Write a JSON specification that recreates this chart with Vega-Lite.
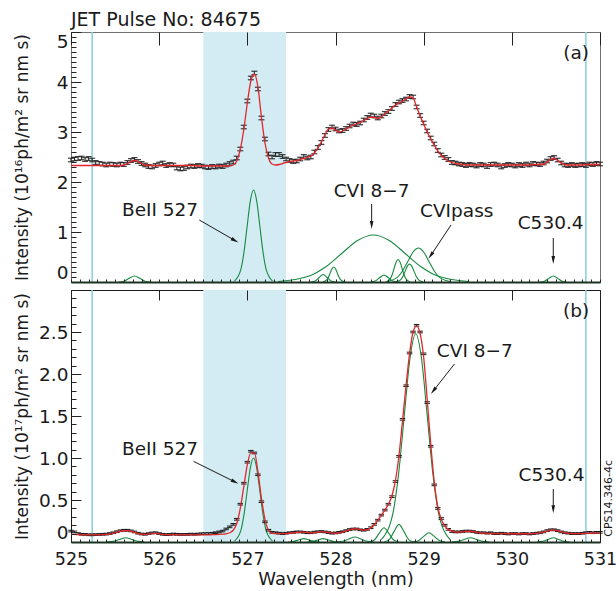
{
"$schema": "https://vega.github.io/schema/vega-lite/v6.json",
"padding": {"left": 12, "top": 10, "right": 0, "bottom": 0},
"spacing": 8,
"bounds": "flush",
"config": {
  "font": "DejaVu Sans",
  "view": {"stroke": "#222222", "strokeWidth": 1},
  "axis": {"labelFont": "DejaVu Sans", "titleFont": "DejaVu Sans", "labelColor": "#1a1a1a", "titleColor": "#1a1a1a", "titleFontWeight": "normal", "labelFontSize": 18.5, "titleFontSize": 17, "labelOverlap": false},
  "text": {"font": "DejaVu Sans", "fontSize": 18.5, "color": "#1a1a1a"}
},
"datasets": {
"main": [
{"x":525.00,"a":2.44,"af":2.33,"b":0.13,"bf":0.09},
{"x":525.04,"a":2.46,"af":2.33,"b":0.12,"bf":0.09},
{"x":525.08,"a":2.47,"af":2.33,"b":0.10,"bf":0.087},
{"x":525.12,"a":2.48,"af":2.33,"b":0.092,"bf":0.085},
{"x":525.16,"a":2.45,"af":2.33,"b":0.09,"bf":0.085},
{"x":525.20,"a":2.47,"af":2.33,"b":0.086,"bf":0.085},
{"x":525.24,"a":2.44,"af":2.33,"b":0.085,"bf":0.085},
{"x":525.28,"a":2.39,"af":2.33,"b":0.087,"bf":0.085},
{"x":525.32,"a":2.37,"af":2.33,"b":0.09,"bf":0.086},
{"x":525.36,"a":2.36,"af":2.33,"b":0.092,"bf":0.088},
{"x":525.40,"a":2.34,"af":2.33,"b":0.094,"bf":0.09},
{"x":525.44,"a":2.36,"af":2.33,"b":0.10,"bf":0.095},
{"x":525.48,"a":2.35,"af":2.33,"b":0.11,"bf":0.105},
{"x":525.52,"a":2.34,"af":2.33,"b":0.122,"bf":0.117},
{"x":525.56,"a":2.36,"af":2.33,"b":0.134,"bf":0.128},
{"x":525.60,"a":2.35,"af":2.34,"b":0.14,"bf":0.134},
{"x":525.64,"a":2.39,"af":2.37,"b":0.14,"bf":0.135},
{"x":525.68,"a":2.43,"af":2.41,"b":0.132,"bf":0.128},
{"x":525.72,"a":2.45,"af":2.43,"b":0.12,"bf":0.115},
{"x":525.76,"a":2.41,"af":2.41,"b":0.105,"bf":0.10},
{"x":525.80,"a":2.37,"af":2.37,"b":0.095,"bf":0.092},
{"x":525.84,"a":2.34,"af":2.34,"b":0.092,"bf":0.09},
{"x":525.88,"a":2.31,"af":2.33,"b":0.10,"bf":0.094},
{"x":525.92,"a":2.30,"af":2.33,"b":0.108,"bf":0.10},
{"x":525.96,"a":2.33,"af":2.33,"b":0.11,"bf":0.102},
{"x":526.00,"a":2.36,"af":2.33,"b":0.10,"bf":0.097},
{"x":526.04,"a":2.38,"af":2.33,"b":0.092,"bf":0.09},
{"x":526.08,"a":2.33,"af":2.33,"b":0.088,"bf":0.087},
{"x":526.12,"a":2.35,"af":2.33,"b":0.09,"bf":0.086},
{"x":526.16,"a":2.34,"af":2.33,"b":0.095,"bf":0.087},
{"x":526.20,"a":2.28,"af":2.33,"b":0.092,"bf":0.087},
{"x":526.24,"a":2.26,"af":2.33,"b":0.09,"bf":0.086},
{"x":526.28,"a":2.27,"af":2.33,"b":0.09,"bf":0.086},
{"x":526.32,"a":2.30,"af":2.33,"b":0.091,"bf":0.086},
{"x":526.36,"a":2.32,"af":2.33,"b":0.094,"bf":0.086},
{"x":526.40,"a":2.31,"af":2.33,"b":0.092,"bf":0.086},
{"x":526.44,"a":2.33,"af":2.32,"b":0.095,"bf":0.086},
{"x":526.48,"a":2.32,"af":2.32,"b":0.098,"bf":0.086},
{"x":526.52,"a":2.30,"af":2.32,"b":0.10,"bf":0.086},
{"x":526.56,"a":2.29,"af":2.32,"b":0.10,"bf":0.086},
{"x":526.60,"a":2.31,"af":2.32,"b":0.104,"bf":0.087},
{"x":526.64,"a":2.30,"af":2.32,"b":0.11,"bf":0.088},
{"x":526.68,"a":2.32,"af":2.32,"b":0.12,"bf":0.09},
{"x":526.72,"a":2.31,"af":2.32,"b":0.13,"bf":0.093},
{"x":526.76,"a":2.34,"af":2.32,"b":0.155,"bf":0.098},
{"x":526.80,"a":2.37,"af":2.32,"b":0.18,"bf":0.11},
{"x":526.84,"a":2.40,"af":2.34,"b":0.21,"bf":0.14},
{"x":526.88,"a":2.48,"af":2.42,"b":0.27,"bf":0.22},
{"x":526.92,"a":2.66,"af":2.65,"b":0.45,"bf":0.40},
{"x":526.96,"a":3.10,"af":3.05,"b":0.70,"bf":0.66},
{"x":527.00,"a":3.62,"af":3.58,"b":0.95,"bf":0.92},
{"x":527.04,"a":4.08,"af":4.02,"b":1.08,"bf":1.06},
{"x":527.08,"a":4.18,"af":4.16,"b":1.06,"bf":1.06},
{"x":527.12,"a":3.86,"af":3.90,"b":0.80,"bf":0.84},
{"x":527.16,"a":3.28,"af":3.30,"b":0.48,"bf":0.52},
{"x":527.20,"a":2.86,"af":2.78,"b":0.24,"bf":0.27},
{"x":527.24,"a":2.56,"af":2.48,"b":0.14,"bf":0.14},
{"x":527.28,"a":2.50,"af":2.36,"b":0.115,"bf":0.105},
{"x":527.32,"a":2.55,"af":2.34,"b":0.11,"bf":0.10},
{"x":527.36,"a":2.55,"af":2.35,"b":0.105,"bf":0.10},
{"x":527.40,"a":2.51,"af":2.37,"b":0.10,"bf":0.10},
{"x":527.44,"a":2.46,"af":2.39,"b":0.105,"bf":0.10},
{"x":527.48,"a":2.43,"af":2.41,"b":0.11,"bf":0.104},
{"x":527.52,"a":2.41,"af":2.42,"b":0.115,"bf":0.11},
{"x":527.56,"a":2.42,"af":2.43,"b":0.12,"bf":0.115},
{"x":527.60,"a":2.46,"af":2.45,"b":0.12,"bf":0.118},
{"x":527.64,"a":2.51,"af":2.47,"b":0.116,"bf":0.118},
{"x":527.68,"a":2.48,"af":2.49,"b":0.11,"bf":0.113},
{"x":527.72,"a":2.50,"af":2.52,"b":0.11,"bf":0.108},
{"x":527.76,"a":2.60,"af":2.58,"b":0.118,"bf":0.11},
{"x":527.80,"a":2.69,"af":2.68,"b":0.122,"bf":0.115},
{"x":527.84,"a":2.79,"af":2.80,"b":0.125,"bf":0.12},
{"x":527.88,"a":2.93,"af":2.94,"b":0.12,"bf":0.12},
{"x":527.92,"a":3.05,"af":3.06,"b":0.112,"bf":0.113},
{"x":527.96,"a":3.10,"af":3.08,"b":0.105,"bf":0.106},
{"x":528.00,"a":3.06,"af":3.04,"b":0.108,"bf":0.105},
{"x":528.04,"a":3.02,"af":3.00,"b":0.115,"bf":0.11},
{"x":528.08,"a":3.03,"af":3.02,"b":0.122,"bf":0.118},
{"x":528.12,"a":3.07,"af":3.06,"b":0.135,"bf":0.13},
{"x":528.16,"a":3.12,"af":3.10,"b":0.148,"bf":0.145},
{"x":528.20,"a":3.16,"af":3.14,"b":0.155,"bf":0.155},
{"x":528.24,"a":3.15,"af":3.16,"b":0.155,"bf":0.156},
{"x":528.28,"a":3.18,"af":3.19,"b":0.145,"bf":0.148},
{"x":528.32,"a":3.24,"af":3.23,"b":0.14,"bf":0.142},
{"x":528.36,"a":3.29,"af":3.27,"b":0.15,"bf":0.148},
{"x":528.40,"a":3.34,"af":3.30,"b":0.17,"bf":0.168},
{"x":528.44,"a":3.32,"af":3.29,"b":0.21,"bf":0.206},
{"x":528.48,"a":3.28,"af":3.27,"b":0.26,"bf":0.258},
{"x":528.52,"a":3.32,"af":3.30,"b":0.32,"bf":0.318},
{"x":528.56,"a":3.37,"af":3.36,"b":0.38,"bf":0.38},
{"x":528.60,"a":3.41,"af":3.42,"b":0.45,"bf":0.45},
{"x":528.64,"a":3.47,"af":3.48,"b":0.54,"bf":0.55},
{"x":528.68,"a":3.55,"af":3.54,"b":0.72,"bf":0.73},
{"x":528.72,"a":3.60,"af":3.58,"b":1.02,"bf":1.03},
{"x":528.76,"a":3.63,"af":3.62,"b":1.46,"bf":1.44},
{"x":528.80,"a":3.66,"af":3.66,"b":1.86,"bf":1.86},
{"x":528.84,"a":3.71,"af":3.70,"b":2.25,"bf":2.24},
{"x":528.88,"a":3.70,"af":3.68,"b":2.50,"bf":2.50},
{"x":528.92,"a":3.50,"af":3.50,"b":2.58,"bf":2.57},
{"x":528.96,"a":3.33,"af":3.32,"b":2.50,"bf":2.48},
{"x":529.00,"a":3.18,"af":3.16,"b":2.24,"bf":2.20},
{"x":529.04,"a":3.02,"af":3.00,"b":1.66,"bf":1.70},
{"x":529.08,"a":2.88,"af":2.86,"b":1.14,"bf":1.17},
{"x":529.12,"a":2.76,"af":2.74,"b":0.68,"bf":0.72},
{"x":529.16,"a":2.63,"af":2.62,"b":0.40,"bf":0.42},
{"x":529.20,"a":2.54,"af":2.53,"b":0.28,"bf":0.27},
{"x":529.24,"a":2.49,"af":2.47,"b":0.20,"bf":0.19},
{"x":529.28,"a":2.45,"af":2.42,"b":0.15,"bf":0.15},
{"x":529.32,"a":2.39,"af":2.39,"b":0.125,"bf":0.13},
{"x":529.36,"a":2.38,"af":2.37,"b":0.12,"bf":0.12},
{"x":529.40,"a":2.36,"af":2.36,"b":0.12,"bf":0.118},
{"x":529.44,"a":2.35,"af":2.35,"b":0.125,"bf":0.12},
{"x":529.48,"a":2.33,"af":2.34,"b":0.13,"bf":0.125},
{"x":529.52,"a":2.35,"af":2.34,"b":0.13,"bf":0.128},
{"x":529.56,"a":2.34,"af":2.34,"b":0.125,"bf":0.125},
{"x":529.60,"a":2.32,"af":2.34,"b":0.115,"bf":0.118},
{"x":529.64,"a":2.35,"af":2.34,"b":0.11,"bf":0.11},
{"x":529.68,"a":2.34,"af":2.34,"b":0.11,"bf":0.105},
{"x":529.72,"a":2.31,"af":2.34,"b":0.105,"bf":0.102},
{"x":529.76,"a":2.35,"af":2.34,"b":0.11,"bf":0.10},
{"x":529.80,"a":2.36,"af":2.34,"b":0.10,"bf":0.10},
{"x":529.84,"a":2.34,"af":2.34,"b":0.10,"bf":0.10},
{"x":529.88,"a":2.30,"af":2.34,"b":0.105,"bf":0.10},
{"x":529.92,"a":2.33,"af":2.34,"b":0.10,"bf":0.10},
{"x":529.96,"a":2.35,"af":2.34,"b":0.095,"bf":0.098},
{"x":530.00,"a":2.34,"af":2.34,"b":0.10,"bf":0.098},
{"x":530.04,"a":2.32,"af":2.34,"b":0.10,"bf":0.098},
{"x":530.08,"a":2.35,"af":2.34,"b":0.095,"bf":0.098},
{"x":530.12,"a":2.33,"af":2.34,"b":0.10,"bf":0.098},
{"x":530.16,"a":2.36,"af":2.34,"b":0.10,"bf":0.098},
{"x":530.20,"a":2.34,"af":2.34,"b":0.095,"bf":0.098},
{"x":530.24,"a":2.37,"af":2.35,"b":0.10,"bf":0.10},
{"x":530.28,"a":2.36,"af":2.35,"b":0.105,"bf":0.103},
{"x":530.32,"a":2.35,"af":2.35,"b":0.11,"bf":0.108},
{"x":530.36,"a":2.38,"af":2.36,"b":0.12,"bf":0.118},
{"x":530.40,"a":2.42,"af":2.39,"b":0.135,"bf":0.13},
{"x":530.44,"a":2.47,"af":2.45,"b":0.145,"bf":0.14},
{"x":530.48,"a":2.49,"af":2.47,"b":0.145,"bf":0.142},
{"x":530.52,"a":2.44,"af":2.43,"b":0.135,"bf":0.135},
{"x":530.56,"a":2.38,"af":2.38,"b":0.12,"bf":0.122},
{"x":530.60,"a":2.34,"af":2.35,"b":0.11,"bf":0.11},
{"x":530.64,"a":2.33,"af":2.34,"b":0.105,"bf":0.104},
{"x":530.68,"a":2.35,"af":2.34,"b":0.10,"bf":0.10},
{"x":530.72,"a":2.33,"af":2.34,"b":0.10,"bf":0.10},
{"x":530.76,"a":2.34,"af":2.34,"b":0.10,"bf":0.10},
{"x":530.80,"a":2.35,"af":2.34,"b":0.105,"bf":0.10},
{"x":530.84,"a":2.33,"af":2.35,"b":0.11,"bf":0.102},
{"x":530.88,"a":2.36,"af":2.35,"b":0.115,"bf":0.104},
{"x":530.92,"a":2.35,"af":2.35,"b":0.11,"bf":0.105},
{"x":530.96,"a":2.37,"af":2.35,"b":0.115,"bf":0.105},
{"x":531.00,"a":2.36,"af":2.35,"b":0.115,"bf":0.105}
],
"comps": [
{"p":"a","c":1,"x":525.54,"y":0.001},{"p":"a","c":1,"x":525.60,"y":0.016},{"p":"a","c":1,"x":525.66,"y":0.073},{"p":"a","c":1,"x":525.72,"y":0.12},{"p":"a","c":1,"x":525.78,"y":0.073},{"p":"a","c":1,"x":525.84,"y":0.016},{"p":"a","c":1,"x":525.90,"y":0.001},
{"p":"a","c":2,"x":526.854,"y":0.02},{"p":"a","c":2,"x":526.926,"y":0.249},{"p":"a","c":2,"x":526.962,"y":0.597},{"p":"a","c":2,"x":526.998,"y":1.116},{"p":"a","c":2,"x":527.034,"y":1.624},{"p":"a","c":2,"x":527.07,"y":1.84},{"p":"a","c":2,"x":527.106,"y":1.624},{"p":"a","c":2,"x":527.142,"y":1.116},{"p":"a","c":2,"x":527.178,"y":0.597},{"p":"a","c":2,"x":527.214,"y":0.249},{"p":"a","c":2,"x":527.286,"y":0.02},
{"p":"a","c":3,"x":527.35,"y":0.01},{"p":"a","c":3,"x":527.71,"y":0.127},{"p":"a","c":3,"x":527.89,"y":0.305},{"p":"a","c":3,"x":528.07,"y":0.57},{"p":"a","c":3,"x":528.25,"y":0.83},{"p":"a","c":3,"x":528.43,"y":0.94},{"p":"a","c":3,"x":528.61,"y":0.83},{"p":"a","c":3,"x":528.79,"y":0.57},{"p":"a","c":3,"x":528.97,"y":0.305},{"p":"a","c":3,"x":529.15,"y":0.127},{"p":"a","c":3,"x":529.51,"y":0.01},
{"p":"a","c":4,"x":528.58,"y":0.008},{"p":"a","c":4,"x":528.70,"y":0.092},{"p":"a","c":4,"x":528.76,"y":0.221},{"p":"a","c":4,"x":528.82,"y":0.412},{"p":"a","c":4,"x":528.88,"y":0.6},{"p":"a","c":4,"x":528.94,"y":0.68},{"p":"a","c":4,"x":529.00,"y":0.6},{"p":"a","c":4,"x":529.06,"y":0.412},{"p":"a","c":4,"x":529.12,"y":0.221},{"p":"a","c":4,"x":529.18,"y":0.092},{"p":"a","c":4,"x":529.30,"y":0.008},
{"p":"a","c":5,"x":527.725,"y":0.002},{"p":"a","c":5,"x":527.77,"y":0.02},{"p":"a","c":5,"x":527.815,"y":0.091},{"p":"a","c":5,"x":527.86,"y":0.15},{"p":"a","c":5,"x":527.905,"y":0.091},{"p":"a","c":5,"x":527.95,"y":0.02},{"p":"a","c":5,"x":527.995,"y":0.002},
{"p":"a","c":6,"x":527.86,"y":0.003},{"p":"a","c":6,"x":527.90,"y":0.041},{"p":"a","c":6,"x":527.92,"y":0.097},{"p":"a","c":6,"x":527.94,"y":0.182},{"p":"a","c":6,"x":527.96,"y":0.265},{"p":"a","c":6,"x":527.98,"y":0.30},{"p":"a","c":6,"x":528.00,"y":0.265},{"p":"a","c":6,"x":528.02,"y":0.182},{"p":"a","c":6,"x":528.04,"y":0.097},{"p":"a","c":6,"x":528.06,"y":0.041},{"p":"a","c":6,"x":528.10,"y":0.003},
{"p":"a","c":7,"x":528.40,"y":0.002},{"p":"a","c":7,"x":528.45,"y":0.019},{"p":"a","c":7,"x":528.50,"y":0.085},{"p":"a","c":7,"x":528.55,"y":0.14},{"p":"a","c":7,"x":528.60,"y":0.085},{"p":"a","c":7,"x":528.65,"y":0.019},{"p":"a","c":7,"x":528.70,"y":0.002},
{"p":"a","c":8,"x":528.575,"y":0.005},{"p":"a","c":8,"x":528.62,"y":0.061},{"p":"a","c":8,"x":528.6425,"y":0.146},{"p":"a","c":8,"x":528.665,"y":0.273},{"p":"a","c":8,"x":528.6875,"y":0.397},{"p":"a","c":8,"x":528.71,"y":0.45},{"p":"a","c":8,"x":528.7325,"y":0.397},{"p":"a","c":8,"x":528.755,"y":0.273},{"p":"a","c":8,"x":528.7775,"y":0.146},{"p":"a","c":8,"x":528.80,"y":0.061},{"p":"a","c":8,"x":528.845,"y":0.005},
{"p":"a","c":9,"x":528.69,"y":0.004},{"p":"a","c":9,"x":528.74,"y":0.049},{"p":"a","c":9,"x":528.765,"y":0.117},{"p":"a","c":9,"x":528.79,"y":0.218},{"p":"a","c":9,"x":528.815,"y":0.318},{"p":"a","c":9,"x":528.84,"y":0.36},{"p":"a","c":9,"x":528.865,"y":0.318},{"p":"a","c":9,"x":528.89,"y":0.218},{"p":"a","c":9,"x":528.915,"y":0.117},{"p":"a","c":9,"x":528.94,"y":0.049},{"p":"a","c":9,"x":528.99,"y":0.004},
{"p":"a","c":10,"x":530.32,"y":0.001},{"p":"a","c":10,"x":530.37,"y":0.016},{"p":"a","c":10,"x":530.42,"y":0.073},{"p":"a","c":10,"x":530.47,"y":0.12},{"p":"a","c":10,"x":530.52,"y":0.073},{"p":"a","c":10,"x":530.57,"y":0.016},{"p":"a","c":10,"x":530.62,"y":0.001},
{"p":"b","c":1,"x":525.41,"y":0.001},{"p":"b","c":1,"x":525.48,"y":0.007},{"p":"b","c":1,"x":525.55,"y":0.03},{"p":"b","c":1,"x":525.62,"y":0.05},{"p":"b","c":1,"x":525.69,"y":0.03},{"p":"b","c":1,"x":525.76,"y":0.007},{"p":"b","c":1,"x":525.83,"y":0.001},
{"p":"b","c":2,"x":526.854,"y":0.011},{"p":"b","c":2,"x":526.926,"y":0.135},{"p":"b","c":2,"x":526.962,"y":0.325},{"p":"b","c":2,"x":526.998,"y":0.607},{"p":"b","c":2,"x":527.034,"y":0.883},{"p":"b","c":2,"x":527.07,"y":1.0},{"p":"b","c":2,"x":527.106,"y":0.883},{"p":"b","c":2,"x":527.142,"y":0.607},{"p":"b","c":2,"x":527.178,"y":0.325},{"p":"b","c":2,"x":527.214,"y":0.135},{"p":"b","c":2,"x":527.286,"y":0.011},
{"p":"b","c":3,"x":527.46,"y":0},{"p":"b","c":3,"x":527.52,"y":0.005},{"p":"b","c":3,"x":527.58,"y":0.024},{"p":"b","c":3,"x":527.64,"y":0.04},{"p":"b","c":3,"x":527.70,"y":0.024},{"p":"b","c":3,"x":527.76,"y":0.005},{"p":"b","c":3,"x":527.82,"y":0},
{"p":"b","c":4,"x":527.68,"y":0},{"p":"b","c":4,"x":527.74,"y":0.005},{"p":"b","c":4,"x":527.80,"y":0.024},{"p":"b","c":4,"x":527.86,"y":0.04},{"p":"b","c":4,"x":527.92,"y":0.024},{"p":"b","c":4,"x":527.98,"y":0.005},{"p":"b","c":4,"x":528.04,"y":0},
{"p":"b","c":5,"x":528.01,"y":0.001},{"p":"b","c":5,"x":528.08,"y":0.008},{"p":"b","c":5,"x":528.15,"y":0.036},{"p":"b","c":5,"x":528.22,"y":0.06},{"p":"b","c":5,"x":528.29,"y":0.036},{"p":"b","c":5,"x":528.36,"y":0.008},{"p":"b","c":5,"x":528.43,"y":0.001},
{"p":"b","c":6,"x":528.385,"y":0.002},{"p":"b","c":6,"x":528.44,"y":0.023},{"p":"b","c":6,"x":528.495,"y":0.103},{"p":"b","c":6,"x":528.55,"y":0.17},{"p":"b","c":6,"x":528.605,"y":0.103},{"p":"b","c":6,"x":528.66,"y":0.023},{"p":"b","c":6,"x":528.715,"y":0.002},
{"p":"b","c":7,"x":528.555,"y":0.002},{"p":"b","c":7,"x":528.61,"y":0.028},{"p":"b","c":7,"x":528.665,"y":0.127},{"p":"b","c":7,"x":528.72,"y":0.21},{"p":"b","c":7,"x":528.775,"y":0.127},{"p":"b","c":7,"x":528.83,"y":0.028},{"p":"b","c":7,"x":528.885,"y":0.002},
{"p":"b","c":8,"x":528.52,"y":0.028},{"p":"b","c":8,"x":528.65,"y":0.336},{"p":"b","c":8,"x":528.715,"y":0.805},{"p":"b","c":8,"x":528.78,"y":1.504},{"p":"b","c":8,"x":528.845,"y":2.189},{"p":"b","c":8,"x":528.91,"y":2.48},{"p":"b","c":8,"x":528.975,"y":2.189},{"p":"b","c":8,"x":529.04,"y":1.504},{"p":"b","c":8,"x":529.105,"y":0.805},{"p":"b","c":8,"x":529.17,"y":0.336},{"p":"b","c":8,"x":529.30,"y":0.028},
{"p":"b","c":9,"x":528.88,"y":0.001},{"p":"b","c":9,"x":528.94,"y":0.015},{"p":"b","c":9,"x":529.00,"y":0.067},{"p":"b","c":9,"x":529.06,"y":0.11},{"p":"b","c":9,"x":529.12,"y":0.067},{"p":"b","c":9,"x":529.18,"y":0.015},{"p":"b","c":9,"x":529.24,"y":0.001},
{"p":"b","c":10,"x":529.32,"y":0.001},{"p":"b","c":10,"x":529.39,"y":0.007},{"p":"b","c":10,"x":529.46,"y":0.03},{"p":"b","c":10,"x":529.53,"y":0.05},{"p":"b","c":10,"x":529.60,"y":0.03},{"p":"b","c":10,"x":529.67,"y":0.007},{"p":"b","c":10,"x":529.74,"y":0.001},
{"p":"b","c":11,"x":530.29,"y":0.001},{"p":"b","c":11,"x":530.35,"y":0.007},{"p":"b","c":11,"x":530.41,"y":0.03},{"p":"b","c":11,"x":530.47,"y":0.05},{"p":"b","c":11,"x":530.53,"y":0.03},{"p":"b","c":11,"x":530.59,"y":0.007},{"p":"b","c":11,"x":530.65,"y":0.001}
],
"notes": [
{"p":"a","label":"BeII 527","x":526.01,"y":1.44},
{"p":"a","label":"CVI 8−7","x":528.41,"y":1.82},
{"p":"a","label":"CVIpass","x":529.375,"y":1.42},
{"p":"a","label":"C530.4","x":530.44,"y":1.18},
{"p":"a","label":"(a)","x":530.73,"y":4.58},
{"p":"b","label":"BeII 527","x":526.01,"y":1.11},
{"p":"b","label":"CVI 8−7","x":529.58,"y":2.27},
{"p":"b","label":"C530.4","x":530.45,"y":0.80},
{"p":"b","label":"(b)","x":530.73,"y":2.75}
],
"arrows": [
{"p":"a","n":"be","x":526.455,"y":1.24,"x2":526.86,"y2":0.83},
{"p":"a","n":"cvi","x":528.41,"y":1.56,"x2":528.41,"y2":1.14},
{"p":"a","n":"pass","x":529.31,"y":1.14,"x2":529.08,"y2":0.53},
{"p":"a","n":"c53","x":530.47,"y":0.88,"x2":530.47,"y2":0.44},
{"p":"b","n":"be","x":526.39,"y":0.96,"x2":526.86,"y2":0.715},
{"p":"b","n":"cvi","x":529.35,"y":2.12,"x2":529.11,"y2":1.80},
{"p":"b","n":"c53","x":530.47,"y":0.63,"x2":530.47,"y2":0.39}
]
},
"vconcat": [
{
  "width": 529, "height": 250,
  "view": {"stroke": "#707070"},
  "title": {"text": "JET Pulse No: 84675", "anchor": "start", "frame": "group", "fontSize": 19, "fontWeight": "normal", "font": "DejaVu Sans", "offset": 1, "color": "#1a1a1a"},
  "resolve": {"axis": {"x": "independent", "y": "independent"}},
  "layer": [
    {"data": {"values": [{"x": 526.5, "x2": 527.44}]},
     "mark": {"type": "rect", "color": "#d3ecf3"},
     "encoding": {
       "x": {"field": "x", "type": "quantitative", "scale": {"domain": [525, 531], "nice": false, "zero": false},
             "axis": {"orient": "bottom", "title": null, "labels": false, "ticks": false, "grid": true, "zindex": 1,
                      "values": [525,525.1,525.2,525.3,525.4,525.5,525.6,525.7,525.8,525.9,526,526.1,526.2,526.3,526.4,526.5,526.6,526.7,526.8,526.9,527,527.1,527.2,527.3,527.4,527.5,527.6,527.7,527.8,527.9,528,528.1,528.2,528.3,528.4,528.5,528.6,528.7,528.8,528.9,529,529.1,529.2,529.3,529.4,529.5,529.6,529.7,529.8,529.9,530,530.1,530.2,530.3,530.4,530.5,530.6,530.7,530.8,530.9,531],
                      "gridColor": "#222222", "gridOpacity": 1, "gridWidth": 1, "gridDash": [3, 3000],
                      "domainColor": "#1d3324", "domainWidth": 2}},
       "x2": {"field": "x2"}
     }},
    {"data": {"values": [{"x": 525.24}, {"x": 530.84}]},
     "mark": {"type": "rule", "color": "#8cd2df", "strokeWidth": 1.6},
     "encoding": {"x": {"field": "x", "type": "quantitative", "axis": null}}},
    {"data": {"name": "comps"},
     "transform": [{"filter": "datum.p == 'a'"}],
     "mark": {"type": "line", "color": "#17893f", "strokeWidth": 1.1, "interpolate": "monotone"},
     "encoding": {
       "x": {"field": "x", "type": "quantitative",
             "axis": {"orient": "bottom", "title": null, "labels": false, "ticks": false, "domain": false, "grid": true, "zindex": 1,
                      "values": [525,526,527,528,529,530,531],
                      "gridColor": "#222222", "gridOpacity": 1, "gridWidth": 1, "gridDash": [13, 3000]}},
       "y": {"field": "y", "type": "quantitative", "scale": {"domain": [0, 5], "nice": false, "zero": false},
             "axis": {"orient": "left", "title": "Intensity (10¹⁶ph/m² sr nm s)", "ticks": false, "grid": true, "domain": false, "zindex": 1,
                      "values": [0,1,2,3,4,5], "format": "d",
                      "labelFlush": true, "labelPadding": 3,
                      "minExtent": 37, "maxExtent": 37, "titlePadding": 3,
                      "gridColor": "#222222", "gridOpacity": 1, "gridWidth": 1, "gridDash": [10, 3000]}},
       "detail": {"field": "c", "type": "nominal"}
     }},
    {"data": {"name": "main"},
     "mark": {"type": "point", "shape": "M-1,-0.6H1M-1,0.6H1M0,-0.6V0.6", "filled": false, "size": 36, "stroke": "#1a1a1a", "strokeWidth": 1, "opacity": 1},
     "encoding": {
       "x": {"field": "x", "type": "quantitative", "axis": null},
       "y": {"field": "a", "type": "quantitative",
             "axis": {"orient": "left", "title": null, "labels": false, "ticks": false, "domain": false, "grid": true, "zindex": 1,
                      "values": [0,0.1,0.2,0.3,0.4,0.5,0.6,0.7,0.8,0.9,1,1.1,1.2,1.3,1.4,1.5,1.6,1.7,1.8,1.9,2,2.1,2.2,2.3,2.4,2.5,2.6,2.7,2.8,2.9,3,3.1,3.2,3.3,3.4,3.5,3.6,3.7,3.8,3.9,4,4.1,4.2,4.3,4.4,4.5,4.6,4.7,4.8,4.9,5],
                      "gridColor": "#222222", "gridOpacity": 1, "gridWidth": 1, "gridDash": [5, 3000]}}}},
    {"data": {"name": "main"},
     "mark": {"type": "line", "color": "#e3262b", "strokeWidth": 1.3, "interpolate": "monotone"},
     "encoding": {"x": {"field": "x", "type": "quantitative", "axis": null}, "y": {"field": "af", "type": "quantitative", "axis": null}}},
    {"data": {"name": "notes"},
     "transform": [{"filter": "datum.p == 'a'"}],
     "mark": {"type": "text", "align": "center", "baseline": "middle"},
     "encoding": {"x": {"field": "x", "type": "quantitative", "axis": null}, "y": {"field": "y", "type": "quantitative", "axis": null}, "text": {"field": "label"}}},
    {"data": {"name": "arrows"},
     "transform": [{"filter": "datum.p == 'a'"}],
     "mark": {"type": "rule", "color": "#1a1a1a", "strokeWidth": 1},
     "encoding": {"x": {"field": "x", "type": "quantitative", "axis": null}, "y": {"field": "y", "type": "quantitative", "axis": null}, "x2": {"field": "x2"}, "y2": {"field": "y2"}}},
    {"data": {"name": "arrows"},
     "transform": [{"filter": "datum.p == 'a' && datum.n == 'be'"}],
     "mark": {"type": "point", "shape": "M1,0L-1,-0.45L-1,0.45Z", "filled": true, "size": 64, "color": "#1a1a1a", "opacity": 1, "angle": 29},
     "encoding": {"x": {"field": "x2", "type": "quantitative", "axis": null}, "y": {"field": "y2", "type": "quantitative", "axis": null}}},
    {"data": {"name": "arrows"},
     "transform": [{"filter": "datum.p == 'a' && datum.n == 'pass'"}],
     "mark": {"type": "point", "shape": "M1,0L-1,-0.45L-1,0.45Z", "filled": true, "size": 64, "color": "#1a1a1a", "opacity": 1, "angle": 124},
     "encoding": {"x": {"field": "x2", "type": "quantitative", "axis": null}, "y": {"field": "y2", "type": "quantitative", "axis": null}}},
    {"data": {"name": "arrows"},
     "transform": [{"filter": "datum.p == 'a' && (datum.n == 'cvi' || datum.n == 'c53')"}],
     "mark": {"type": "point", "shape": "M1,0L-1,-0.45L-1,0.45Z", "filled": true, "size": 64, "color": "#1a1a1a", "opacity": 1, "angle": 90},
     "encoding": {"x": {"field": "x2", "type": "quantitative", "axis": null}, "y": {"field": "y2", "type": "quantitative", "axis": null}}}
  ]
},
{
  "width": 529, "height": 252,
  "view": {"stroke": "#1a1a1a"},
  "resolve": {"axis": {"x": "independent", "y": "independent"}},
  "layer": [
    {"data": {"values": [{"x": 526.5, "x2": 527.44}]},
     "mark": {"type": "rect", "color": "#d3ecf3"},
     "encoding": {
       "x": {"field": "x", "type": "quantitative", "scale": {"domain": [525, 531], "nice": false, "zero": false},
             "axis": {"orient": "bottom", "title": null, "labels": false, "ticks": false, "grid": true, "zindex": 1,
                      "values": [525,525.1,525.2,525.3,525.4,525.5,525.6,525.7,525.8,525.9,526,526.1,526.2,526.3,526.4,526.5,526.6,526.7,526.8,526.9,527,527.1,527.2,527.3,527.4,527.5,527.6,527.7,527.8,527.9,528,528.1,528.2,528.3,528.4,528.5,528.6,528.7,528.8,528.9,529,529.1,529.2,529.3,529.4,529.5,529.6,529.7,529.8,529.9,530,530.1,530.2,530.3,530.4,530.5,530.6,530.7,530.8,530.9,531],
                      "gridColor": "#222222", "gridOpacity": 1, "gridWidth": 1, "gridDash": [3, 3000],
                      "domainColor": "#1d3324", "domainWidth": 2}},
       "x2": {"field": "x2"}
     }},
    {"data": {"values": [{"x": 525.24}, {"x": 530.84}]},
     "mark": {"type": "rule", "color": "#8cd2df", "strokeWidth": 1.6},
     "encoding": {"x": {"field": "x", "type": "quantitative", "axis": null}}},
    {"data": {"name": "comps"},
     "transform": [{"filter": "datum.p == 'b'"}],
     "mark": {"type": "line", "color": "#17893f", "strokeWidth": 1.1, "interpolate": "monotone"},
     "encoding": {
       "x": {"field": "x", "type": "quantitative",
             "axis": {"orient": "bottom", "title": "Wavelength (nm)", "titlePadding": 3, "ticks": false, "domain": false, "grid": true, "zindex": 1,
                      "values": [525,526,527,528,529,530,531], "format": "d",
                      "labelFlush": false, "labelPadding": 8, "labelFontSize": 17.5, "titleFontSize": 18,
                      "gridColor": "#222222", "gridOpacity": 1, "gridWidth": 1, "gridDash": [10, 3000]}},
       "y": {"field": "y", "type": "quantitative", "scale": {"domain": [0, 3], "nice": false, "zero": false},
             "axis": {"orient": "left", "title": "Intensity (10¹⁷ph/m² sr nm s)", "ticks": false, "grid": true, "domain": false, "zindex": 1,
                      "values": [0,0.5,1,1.5,2,2.5],
                      "labelExpr": "datum.value < 0.001 ? '0' : format(datum.value, '.1f')",
                      "labelFlush": true, "labelPadding": 3,
                      "minExtent": 37, "maxExtent": 37, "titlePadding": 3,
                      "gridColor": "#222222", "gridOpacity": 1, "gridWidth": 1, "gridDash": [10, 3000]}},
       "detail": {"field": "c", "type": "nominal"}
     }},
    {"data": {"name": "main"},
     "mark": {"type": "point", "shape": "M-1,-0.3H1M-1,0.3H1M0,-0.3V0.3", "filled": false, "size": 30, "stroke": "#1a1a1a", "strokeWidth": 1, "opacity": 1},
     "encoding": {
       "x": {"field": "x", "type": "quantitative", "axis": null},
       "y": {"field": "b", "type": "quantitative",
             "axis": {"orient": "left", "title": null, "labels": false, "ticks": false, "domain": false, "grid": true, "zindex": 1,
                      "values": [0,0.1,0.2,0.3,0.4,0.5,0.6,0.7,0.8,0.9,1,1.1,1.2,1.3,1.4,1.5,1.6,1.7,1.8,1.9,2,2.1,2.2,2.3,2.4,2.5,2.6,2.7,2.8,2.9,3],
                      "gridColor": "#222222", "gridOpacity": 1, "gridWidth": 1, "gridDash": [5, 3000]}}}},
    {"data": {"name": "main"},
     "mark": {"type": "line", "color": "#e3262b", "strokeWidth": 1.3, "interpolate": "monotone"},
     "encoding": {"x": {"field": "x", "type": "quantitative", "axis": null}, "y": {"field": "bf", "type": "quantitative", "axis": null}}},
    {"data": {"name": "notes"},
     "transform": [{"filter": "datum.p == 'b'"}],
     "mark": {"type": "text", "align": "center", "baseline": "middle"},
     "encoding": {"x": {"field": "x", "type": "quantitative", "axis": null}, "y": {"field": "y", "type": "quantitative", "axis": null}, "text": {"field": "label"}}},
    {"data": {"values": [{"x": 531.1, "y": 0.52, "label": "CPS14.346-4c"}]},
     "mark": {"type": "text", "align": "center", "baseline": "middle", "angle": 270, "fontSize": 11},
     "encoding": {"x": {"field": "x", "type": "quantitative", "axis": null}, "y": {"field": "y", "type": "quantitative", "axis": null}, "text": {"field": "label"}}},
    {"data": {"name": "arrows"},
     "transform": [{"filter": "datum.p == 'b'"}],
     "mark": {"type": "rule", "color": "#1a1a1a", "strokeWidth": 1},
     "encoding": {"x": {"field": "x", "type": "quantitative", "axis": null}, "y": {"field": "y", "type": "quantitative", "axis": null}, "x2": {"field": "x2"}, "y2": {"field": "y2"}}},
    {"data": {"name": "arrows"},
     "transform": [{"filter": "datum.p == 'b' && datum.n == 'be'"}],
     "mark": {"type": "point", "shape": "M1,0L-1,-0.45L-1,0.45Z", "filled": true, "size": 64, "color": "#1a1a1a", "opacity": 1, "angle": 27},
     "encoding": {"x": {"field": "x2", "type": "quantitative", "axis": null}, "y": {"field": "y2", "type": "quantitative", "axis": null}}},
    {"data": {"name": "arrows"},
     "transform": [{"filter": "datum.p == 'b' && datum.n == 'cvi'"}],
     "mark": {"type": "point", "shape": "M1,0L-1,-0.45L-1,0.45Z", "filled": true, "size": 64, "color": "#1a1a1a", "opacity": 1, "angle": 128},
     "encoding": {"x": {"field": "x2", "type": "quantitative", "axis": null}, "y": {"field": "y2", "type": "quantitative", "axis": null}}},
    {"data": {"name": "arrows"},
     "transform": [{"filter": "datum.p == 'b' && datum.n == 'c53'"}],
     "mark": {"type": "point", "shape": "M1,0L-1,-0.45L-1,0.45Z", "filled": true, "size": 64, "color": "#1a1a1a", "opacity": 1, "angle": 90},
     "encoding": {"x": {"field": "x2", "type": "quantitative", "axis": null}, "y": {"field": "y2", "type": "quantitative", "axis": null}}}
  ]
}
]
}
